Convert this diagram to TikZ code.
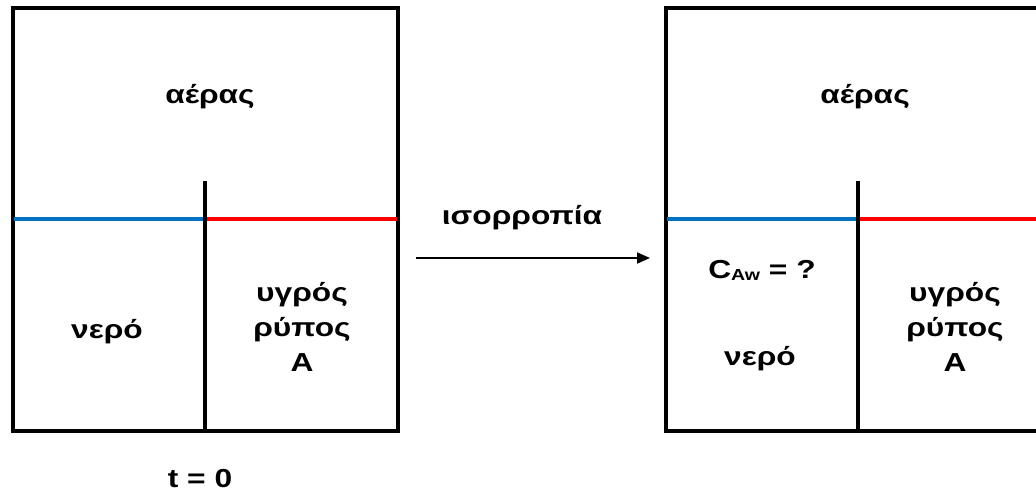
\documentclass[tikz,border=0pt]{standalone}
\usepackage{fontspec}
\setmainfont{Liberation Sans}
\usetikzlibrary{arrows.meta}
\definecolor{wblue}{RGB}{0,112,192}
\definecolor{wred}{RGB}{255,0,0}
\tikzset{
  wall/.style={line width=3.2pt, black},
  iface/.style={line width=3.2pt},
  lbl/.style={font=\fontsize{26}{35}\selectfont\bfseries, align=center, inner sep=0pt, xscale=1.22},
}
\begin{document}
\begin{tikzpicture}[x=1pt,y=1pt]
\useasboundingbox (0,0) rectangle (1036,493);
% left container
\draw[wall] (13,485) rectangle (398,62);
\draw[iface, wblue] (14,274) -- (205,274);
\draw[iface, wred] (205,274) -- (397,274);
\draw[wall] (205,312) -- (205,62);
% right container (cut at right edge)
\draw[wall] (1036,485) -- (666,485) -- (666,62) -- (1036,62);
\draw[iface, wblue] (667,274) -- (858,274);
\draw[iface, wred] (858,274) -- (1036,274);
\draw[wall] (858,312) -- (858,62);
% labels left
\node[lbl] (airL) at (210,396) {αέρας};
\node[lbl] (watL) at (107,161) {νερό};
\node[lbl] (solL) at (302,166) {υγρός\\ρύπος\\A};
\node[lbl] (t0) at (200,14) {t = 0};
% labels right
\node[lbl] (airR) at (865,396) {αέρας};
\node[lbl] (caw) at (762,223) {C\raisebox{-2pt}{\fontsize{16}{16}\selectfont Aw} = ?};
\node[lbl] (watR) at (760,134) {νερό};
\node[lbl] (solR) at (955,166) {υγρός\\ρύπος\\A};
% arrow
\coordinate (a1) at (416,235);
\coordinate (a2) at (650,235);
\draw[line width=1.8pt, -{Triangle[length=13pt,width=11pt]}] (a1) -- (a2);
\node[lbl] (eq) at (522,275) {ισορροπία};
\end{tikzpicture}
\end{document}
